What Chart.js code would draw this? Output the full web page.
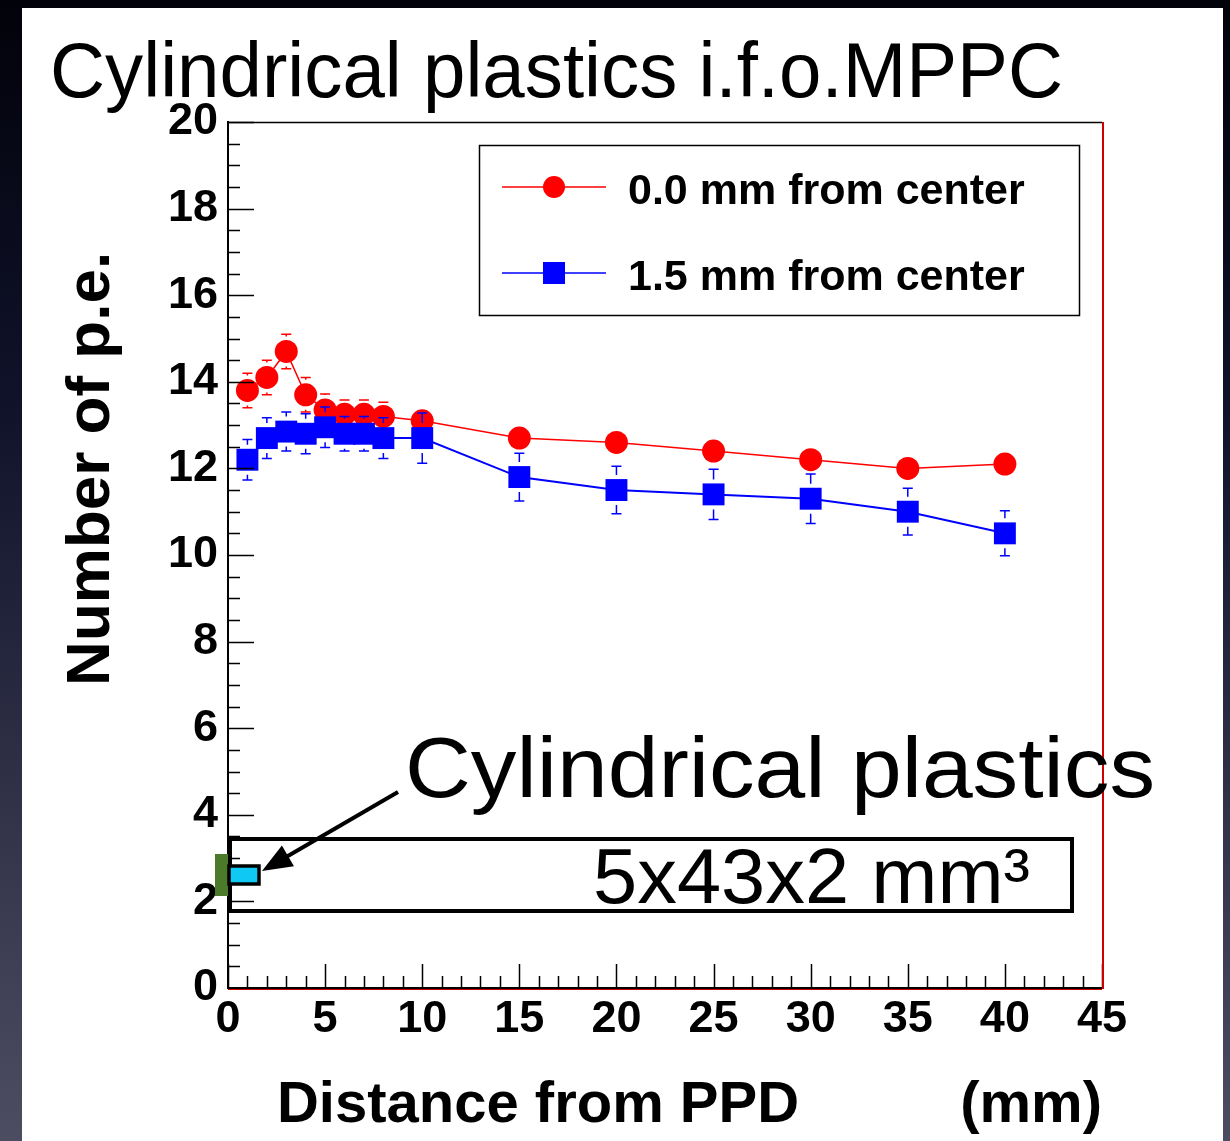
<!DOCTYPE html>
<html lang="en">
<head>
<meta charset="UTF-8">
<title>Cylindrical plastics i.f.o.MPPC</title>
<script src="https://cdn.jsdelivr.net/npm/chart.js"></script>
<style>
    body { margin: 0; background: #000; }
    canvas { display: block; }
</style>
</head>
<body>
<canvas id="peChart" width="1230" height="1141"></canvas>
<script>
    // Distance from PPD (mm)
    const distances = [1, 2, 3, 4, 5, 6, 7, 8, 10, 15, 20, 25, 30, 35, 40];
    // 0.0 mm from center
    const peCenter  = [13.8, 14.1, 14.7, 13.7, 13.35, 13.25, 13.25, 13.2, 13.1, 12.7, 12.6, 12.4, 12.2, 12.0, 12.1];
    const errCenter = [0.4, 0.4, 0.4, 0.4, 0.37, 0.33, 0.33, 0.33, 0.2, 0.2, 0.2, 0.2, 0.2, 0.2, 0.2];
    // 1.5 mm from center
    const peOffset  = [12.2, 12.7, 12.85, 12.8, 12.95, 12.8, 12.8, 12.7, 12.7, 11.8, 11.5, 11.4, 11.3, 11.0, 10.5];
    const errOffset = [0.47, 0.47, 0.45, 0.46, 0.47, 0.4, 0.4, 0.47, 0.58, 0.55, 0.55, 0.58, 0.57, 0.54, 0.52];
    const seriesLabels = ['0.0 mm from center', '1.5 mm from center'];
    const xTicks = [0, 5, 10, 15, 20, 25, 30, 35, 40, 45];
    const yTicks = [0, 2, 4, 6, 8, 10, 12, 14, 16, 18, 20];

    const FONT = "'Liberation Sans', Arial, Helvetica, sans-serif";

    function toPoints(xs, ys) {
        return xs.map((x, i) => ({x: x, y: ys[i]}));
    }

    // text squeezed / stretched to a given width
    function fitText(ctx, text, x, y, size, weight, width) {
        ctx.save();
        ctx.font = weight + ' ' + size + 'px ' + FONT;
        const w = ctx.measureText(text).width;
        ctx.translate(x, y);
        ctx.scale(width / w, 1);
        ctx.textAlign = 'left';
        ctx.textBaseline = 'alphabetic';
        ctx.fillStyle = '#000';
        ctx.fillText(text, 0, 0);
        ctx.restore();
    }

    // slide background + white panel + title
    const slidePlugin = {
        id: 'slide',
        beforeDraw(chart) {
            const ctx = chart.ctx;
            const g = ctx.createLinearGradient(0, 0, 0, chart.height);
            g.addColorStop(0, '#02020a');
            g.addColorStop(0.35, '#10122a');
            g.addColorStop(1, '#4d4d62');
            ctx.save();
            ctx.fillStyle = g;
            ctx.fillRect(0, 0, chart.width, chart.height);
            ctx.fillStyle = '#fff';
            ctx.fillRect(22, 8, 1201, chart.height - 8);
            fitText(ctx, 'Cylindrical plastics i.f.o.MPPC', 50, 97, 77, 'normal', 1013);
            ctx.restore();
        }
    };

    // ROOT-like error bars, drawn under each graph's markers
    const errorBarPlugin = {
        id: 'errorBars',
        beforeDatasetDraw(chart, args) {
            const ds = chart.data.datasets[args.index];
            const y = chart.scales.y;
            const ctx = chart.ctx;
            ctx.save();
            ctx.strokeStyle = ds.borderColor;
            ctx.lineWidth = 1.5;
            args.meta.data.forEach((pt, i) => {
                const v = ds.data[i].y;
                const top = y.getPixelForValue(v + ds.errors[i]);
                const bot = y.getPixelForValue(v - ds.errors[i]);
                const gap = ds.markerHalf + 4;
                ctx.beginPath();
                if (pt.y - top > gap) { ctx.moveTo(pt.x, top); ctx.lineTo(pt.x, pt.y - gap); }
                if (bot - pt.y > gap) { ctx.moveTo(pt.x, bot); ctx.lineTo(pt.x, pt.y + gap); }
                ctx.moveTo(pt.x - 5, top); ctx.lineTo(pt.x + 5, top);
                ctx.moveTo(pt.x - 5, bot); ctx.lineTo(pt.x + 5, bot);
                ctx.stroke();
            });
            ctx.restore();
        }
    };

    // ticks inside the frame, frame, legend and slide annotations
    const overlayPlugin = {
        id: 'overlay',
        afterDraw(chart) {
            const ctx = chart.ctx;
            const xs = chart.scales.x, ys = chart.scales.y;
            const a = chart.chartArea;
            ctx.save();

            // tick marks
            ctx.strokeStyle = '#000';
            ctx.lineWidth = 1.5;
            ctx.beginPath();
            for (let v = 0; v <= 20.001; v += 0.5) {
                const py = Math.round(ys.getPixelForValue(v)) + 0.5;
                const len = (Math.abs(v / 2 - Math.round(v / 2)) < 1e-6) ? 26 : 12;
                ctx.moveTo(a.left, py); ctx.lineTo(a.left + len, py);
            }
            for (let v = 0; v <= 45.001; v += 1) {
                const px = Math.round(xs.getPixelForValue(v)) + 0.5;
                const len = (v % 5 === 0) ? 24 : 12;
                ctx.moveTo(px, a.bottom); ctx.lineTo(px, a.bottom - len);
            }
            ctx.stroke();

            // frame
            ctx.beginPath();
            ctx.moveTo(a.left, a.top + 0.5); ctx.lineTo(a.right, a.top + 0.5);
            ctx.stroke();
            ctx.strokeStyle = '#d00000';
            ctx.lineWidth = 2;
            ctx.beginPath();
            ctx.moveTo(a.right + 1, a.top); ctx.lineTo(a.right + 1, a.bottom + 1);
            ctx.stroke();
            ctx.lineWidth = 1;
            ctx.beginPath();
            ctx.moveTo(a.left, a.bottom + 1.5); ctx.lineTo(a.right, a.bottom + 1.5);
            ctx.stroke();

            // legend
            ctx.strokeStyle = '#000';
            ctx.lineWidth = 1.5;
            ctx.strokeRect(479.5, 145.5, 600, 170);
            const rows = [187, 273];
            chart.data.datasets.forEach((ds, i) => {
                const ry = rows[i];
                ctx.strokeStyle = ds.borderColor;
                ctx.lineWidth = 1.5;
                ctx.beginPath();
                ctx.moveTo(502, ry); ctx.lineTo(606, ry);
                ctx.stroke();
                ctx.fillStyle = ds.backgroundColor;
                if (ds.pointStyle === 'circle') {
                    ctx.beginPath();
                    ctx.arc(554, ry, 11, 0, Math.PI * 2);
                    ctx.fill();
                } else {
                    ctx.fillRect(543, ry - 11, 22, 22);
                }
                ctx.fillStyle = '#000';
                ctx.font = 'bold 43px ' + FONT;
                ctx.textAlign = 'left';
                ctx.textBaseline = 'middle';
                ctx.fillText(ds.label, 628, ry + 5);
            });

            // plastic sketch
            ctx.fillStyle = '#4a7a2a';
            ctx.fillRect(215, 854, 13, 42);
            ctx.strokeStyle = '#000';
            ctx.lineWidth = 4;
            ctx.strokeRect(230, 839, 842, 72);
            ctx.fillStyle = '#10c8f4';
            ctx.fillRect(229, 866, 30, 18);
            ctx.lineWidth = 3.5;
            ctx.strokeRect(229, 866, 30, 18);

            // arrow
            const x0 = 398, y0 = 792, x1 = 262, y1 = 871;
            const ang = Math.atan2(y1 - y0, x1 - x0);
            ctx.lineWidth = 4;
            ctx.beginPath();
            ctx.moveTo(x0, y0);
            ctx.lineTo(x1 - 20 * Math.cos(ang), y1 - 20 * Math.sin(ang));
            ctx.stroke();
            ctx.fillStyle = '#000';
            ctx.beginPath();
            ctx.moveTo(x1, y1);
            ctx.lineTo(x1 - 30 * Math.cos(ang) + 12 * Math.sin(ang), y1 - 30 * Math.sin(ang) - 12 * Math.cos(ang));
            ctx.lineTo(x1 - 30 * Math.cos(ang) - 12 * Math.sin(ang), y1 - 30 * Math.sin(ang) + 12 * Math.cos(ang));
            ctx.closePath();
            ctx.fill();

            fitText(ctx, 'Cylindrical plastics', 405, 797, 85, 'normal', 750);
            fitText(ctx, '5x43x2 mm\u00b3', 593, 903, 77, 'normal', 437);
            ctx.restore();
        }
    };

    const ctx = document.getElementById('peChart').getContext('2d');
    const chart = new Chart(ctx, {
        type: 'line',
        data: {
            datasets: [
                {
                    label: seriesLabels[0],
                    data: toPoints(distances, peCenter),
                    errors: errCenter,
                    markerHalf: 11,
                    borderColor: '#ff0000',
                    backgroundColor: '#ff0000',
                    borderWidth: 1.5,
                    pointStyle: 'circle',
                    pointRadius: 11.5,
                    pointBorderWidth: 0,
                    tension: 0,
                    order: 2
                },
                {
                    label: seriesLabels[1],
                    data: toPoints(distances, peOffset),
                    errors: errOffset,
                    markerHalf: 11,
                    borderColor: '#0000ff',
                    backgroundColor: '#0000ff',
                    borderWidth: 2,
                    pointStyle: 'rect',
                    pointRadius: 15.5,
                    pointBorderWidth: 0,
                    tension: 0,
                    order: 1
                }
            ]
        },
        options: {
            responsive: false,
            animation: false,
            devicePixelRatio: 1,
            layout: { padding: { top: 122, right: 128, left: 0, bottom: 0 } },
            plugins: {
                legend: { display: false },
                tooltip: { enabled: false }
            },
            scales: {
                x: {
                    type: 'linear',
                    min: 0,
                    max: 45,
                    afterBuildTicks: (s) => { s.ticks = xTicks.map(v => ({value: v})); },
                    afterFit: (s) => { s.height = 153; },
                    grid: { display: false, drawTicks: false },
                    border: { display: true, color: '#000', width: 2 },
                    ticks: {
                        padding: 5,
                        maxRotation: 0,
                        color: '#000',
                        font: { family: FONT, size: 45, weight: 'bold' }
                    },
                    title: {
                        display: true,
                        align: 'end',
                        text: 'Distance from PPD          (mm)',
                        color: '#000',
                        padding: { top: 0, bottom: 0 },
                        font: { family: FONT, size: 58, weight: 'bold' }
                    }
                },
                y: {
                    min: 0,
                    max: 20,
                    afterBuildTicks: (s) => { s.ticks = yTicks.map(v => ({value: v})); },
                    afterFit: (s) => { s.width = 228; },
                    grid: { display: false, drawTicks: false },
                    border: { display: true, color: '#000', width: 2 },
                    ticks: {
                        padding: 10,
                        color: '#000',
                        font: { family: FONT, size: 45, weight: 'bold' }
                    },
                    title: {
                        display: true,
                        text: '          Number of p.e.',
                        color: '#000',
                        padding: { top: 55, bottom: 0 },
                        font: { family: FONT, size: 62, weight: 'bold' }
                    }
                }
            }
        },
        plugins: [slidePlugin, errorBarPlugin, overlayPlugin]
    });
</script>
</body>
</html>
